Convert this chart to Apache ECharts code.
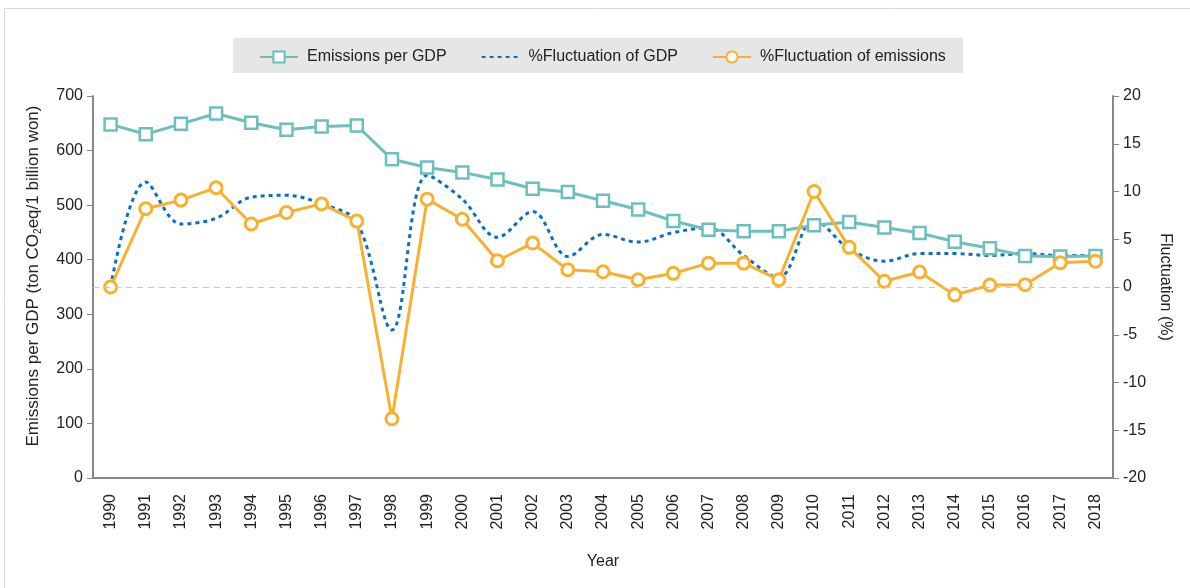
<!DOCTYPE html>
<html>
<head>
<meta charset="utf-8">
<script src="https://cdn.jsdelivr.net/npm/echarts@6/dist/echarts.min.js"></script>
<style>
html,body{margin:0;padding:0;background:#fff;}
#chart{width:1190px;height:588px;}
</style>
</head>
<body>
<div id="chart"></div>
<script>
const years = ['1990','1991','1992','1993','1994','1995','1996','1997','1998','1999','2000','2001','2002','2003','2004','2005','2006','2007','2008','2009','2010','2011','2012','2013','2014','2015','2016','2017','2018'];
const emissionsPerGDP = [648,630,649,668,651,638,644,646,584,569,560,547,530,524,508,492,471,455,452,452,463,469,459,449,433,421,407,406,407];
const gdpFluctuation = [0,11.0,6.6,7.2,9.4,9.6,8.7,6.8,-4.5,11.7,9.2,5.2,7.9,3.2,5.5,4.7,5.7,6.2,3.3,1.0,7.0,4.0,2.7,3.5,3.5,3.3,3.5,3.3,3.3];
const emissionsFluctuation = [0,8.2,9.1,10.4,6.6,7.8,8.7,6.9,-13.8,9.2,7.1,2.75,4.6,1.8,1.6,0.76,1.43,2.5,2.5,0.76,10.0,4.15,0.6,1.57,-0.84,0.2,0.24,2.54,2.7];
const leftTicks = {min:0, max:700, interval:100};
const rightTicks = {min:-20, max:20, interval:5};

const FONT = 'Liberation Sans, Arial, sans-serif';
const chart = echarts.init(document.getElementById('chart'));
chart.setOption({
  backgroundColor: '#fff',
  animation: false,
  textStyle: {fontFamily: FONT, color: '#222'},
  graphic: [
    {type:'rect', shape:{x:4.5, y:8.5, width:1200, height:600}, style:{fill:'none', stroke:'#dcdcdc', lineWidth:1}, z:-10},
    {type:'rect', shape:{x:233, y:38, width:730, height:35}, style:{fill:'#e6e6e6'}, z:-5}
  ],
  legend: {
    top: 44,
    left: 254,
    itemWidth: 38,
    itemHeight: 14,
    itemGap: 34,
    textStyle: {fontSize: 16, fontFamily: FONT, color: '#222', padding: [0, 0, 0, 4]},
    data: [
      {name: 'Emissions per GDP'},
      {name: '%Fluctuation of GDP', itemStyle: {opacity: 0}},
      {name: '%Fluctuation of emissions'}
    ]
  },
  grid: {left: 93, right: 77, top: 96, bottom: 110},
  xAxis: {
    type: 'category',
    data: years,
    boundaryGap: true,
    name: 'Year',
    nameLocation: 'middle',
    nameGap: 76,
    nameTextStyle: {fontSize: 16, color: '#222'},
    axisLine: {lineStyle: {color: '#888', width: 2}},
    axisTick: {length: 8, lineStyle: {color: '#888'}},
    axisLabel: {rotate: 90, fontSize: 16, color: '#222', margin: 16}
  },
  yAxis: [
    {
      type: 'value', position: 'left',
      min: leftTicks.min, max: leftTicks.max, interval: leftTicks.interval,
      name: 'Emissions per GDP (ton CO{sub|2}eq/1 billion won)',
      nameLocation: 'middle', nameGap: 50,
      nameTextStyle: {fontSize: 17, color: '#222', padding: [0, 0, 0, 22], rich: {sub: {fontSize: 10, padding: [9, 0, 0, 0], color:'#222'}}},
      axisLine: {show: true, lineStyle: {color: '#888', width: 2}},
      axisTick: {show: true, length: 6, lineStyle: {color: '#888'}},
      axisLabel: {fontSize: 16, color: '#222', margin: 10},
      splitLine: {show: false}
    },
    {
      type: 'value', position: 'right',
      min: rightTicks.min, max: rightTicks.max, interval: rightTicks.interval,
      name: 'Fluctuation (%)',
      nameLocation: 'middle', nameGap: 42, nameRotate: -90,
      nameTextStyle: {fontSize: 16, color: '#222'},
      axisLine: {show: true, lineStyle: {color: '#888', width: 2}},
      axisTick: {show: true, length: 6, lineStyle: {color: '#888'}},
      axisLabel: {fontSize: 16, color: '#222', margin: 10},
      splitLine: {show: false}
    }
  ],
  series: [
    {
      name: 'Emissions per GDP',
      type: 'line', yAxisIndex: 0,
      data: emissionsPerGDP,
      symbol: 'rect', symbolSize: 12,
      itemStyle: {color: '#fff', borderColor: '#6dbfbe', borderWidth: 2.5},
      lineStyle: {color: '#6dbfbe', width: 3},
      z: 3
    },
    {
      name: '%Fluctuation of GDP',
      type: 'line', yAxisIndex: 1,
      data: gdpFluctuation,
      smooth: 0.35,
      showSymbol: false, symbol: 'none',
      itemStyle: {color: '#0a6fc0'},
      lineStyle: {color: '#0a6fc0', width: 3, type: [4, 4]},
      z: 2,
      markLine: {
        silent: true, symbol: 'none', label: {show: false},
        lineStyle: {color: '#c8c8c8', type: [6, 5], width: 1},
        data: [{yAxis: 0}]
      }
    },
    {
      name: '%Fluctuation of emissions',
      type: 'line', yAxisIndex: 1,
      data: emissionsFluctuation,
      symbol: 'circle', symbolSize: 12,
      itemStyle: {color: '#fff', borderColor: '#f8b12f', borderWidth: 3},
      lineStyle: {color: '#f8b12f', width: 3},
      z: 4
    }
  ]
});
</script>
</body>
</html>
